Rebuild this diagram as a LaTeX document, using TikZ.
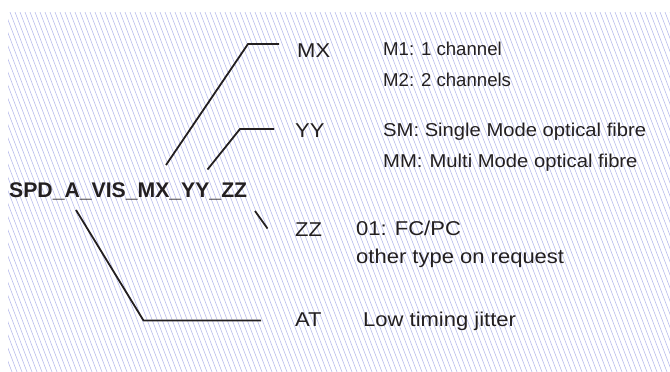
\documentclass[tikz,border=0pt]{standalone}
\usepackage{fontspec}
\setmainfont{Liberation Sans}
\newfontfamily\fontA{Liberation Sans}
\newfontfamily\fontB[FakeStretch=1.087]{Liberation Sans}
\newfontfamily\fontC[FakeStretch=1.1]{Liberation Sans}
\definecolor{hatchc}{RGB}{184,188,236}
\definecolor{ink}{RGB}{35,31,32}
\begin{document}
\begin{tikzpicture}[x=1pt,y=-1pt,
  hatch/.style={draw=hatchc,line width=0.6pt},
  conn/.style={draw=ink,line width=1.8pt},
  txt/.style={anchor=base west,inner sep=0pt,text=ink},
  lbl/.style={txt,font=\fontC\fontsize{20}{24}\selectfont},
  lblA/.style={txt,font=\fontA\fontsize{18.6}{22}\selectfont},
  lblB/.style={txt,font=\fontB\fontsize{18.6}{22}\selectfont},
  code/.style={txt,font=\bfseries\fontsize{21.2}{25}\selectfont}]
\useasboundingbox (0,0) rectangle (670,372);
\begin{scope}
  \clip (8,12) rectangle (670,372);
  \foreach \x in {-140,-135,...,670} \draw[hatch] (\x,12) -- (\x+137,372);
\end{scope}
% texts
\node[code] (code) at (9,197) {SPD\_A\_VIS\_MX\_YY\_ZZ};
\node[lbl] (mx) at (297,57) {MX};
\node[lblA] (m1) at (383,56) {M1: 1 channel};
\node[lblA] (m2) at (383,86.5) {M2: 2 channels};
\node[lbl] (yy) at (295,137) {YY};
\node[lblB] (sm) at (383,136.5) {SM: Single Mode optical fibre};
\node[lblB] (mm) at (383,167) {MM:\hspace{1.5pt} Multi Mode optical fibre};
\node[lbl] (zz) at (295,236.5) {ZZ};
\node[lbl] (c01) at (356,235) {01: FC/PC};
\node[lbl] (oth) at (356,263) {other type on request};
\node[lbl] (at) at (295,326.5) {AT};
\node[lbl] (low) at (363,326) {Low timing jitter};
% connector points
\coordinate (mxa) at (166,165);
\coordinate (mxb) at (248,44);
\coordinate (mxc) at (279,44);
\coordinate (yya) at (207.5,169.5);
\coordinate (yyb) at (240,129);
\coordinate (yyc) at (274,129);
\coordinate (zza) at (255,211);
\coordinate (zzb) at (267.5,228.5);
\coordinate (ata) at (76,210);
\coordinate (atb) at (143.5,320.5);
\coordinate (atc) at (261,320.5);
\draw[conn] (mxa) -- (mxb) -- (mxc);
\draw[conn] (yya) -- (yyb) -- (yyc);
\draw[conn] (zza) -- (zzb);
\draw[conn] (ata) -- (atb) -- (atc);
\end{tikzpicture}
\end{document}
